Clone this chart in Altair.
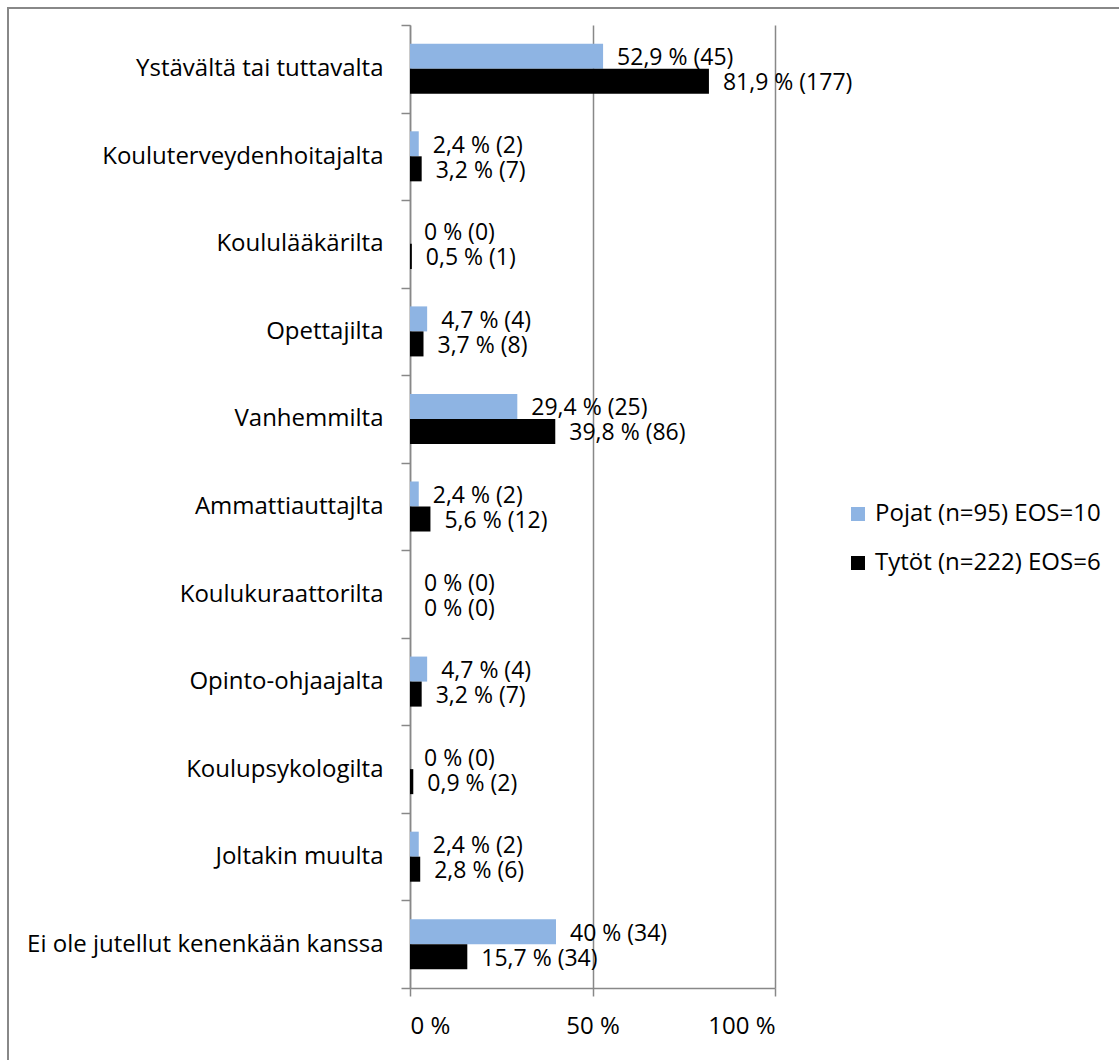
import altair as alt
import pandas as pd

categories = [
    "Ystävältä tai tuttavalta",
    "Kouluterveydenhoitajalta",
    "Koululääkärilta",
    "Opettajilta",
    "Vanhemmilta",
    "Ammattiauttajlta",
    "Koulukuraattorilta",
    "Opinto-ohjaajalta",
    "Koulupsykologilta",
    "Joltakin muulta",
    "Ei ole jutellut kenenkään kanssa",
]
series = ["Pojat (n=95) EOS=10", "Tytöt (n=222) EOS=6"]
colors = ["#8EB4E3", "#000000"]

pojat_pct = [52.9, 2.4, 0, 4.7, 29.4, 2.4, 0, 4.7, 0, 2.4, 40]
pojat_n = [45, 2, 0, 4, 25, 2, 0, 4, 0, 2, 34]
tytot_pct = [81.9, 3.2, 0.5, 3.7, 39.8, 5.6, 0, 3.2, 0.9, 2.8, 15.7]
tytot_n = [177, 7, 1, 8, 86, 12, 0, 7, 2, 6, 34]


def fmt(p, n):
    return f"{p:g}".replace(".", ",") + f" % ({n})"


rows = []
for s, pcts, ns in [(series[0], pojat_pct, pojat_n), (series[1], tytot_pct, tytot_n)]:
    for c, p, n in zip(categories, pcts, ns):
        rows.append({"kategoria": c, "sarja": s, "pct": p, "label": fmt(p, n)})
df = pd.DataFrame(rows)

FONT = "Open Sans"
SIZE = 24
VALUE_SIZE = 23
GRAY = "#888888"

base = alt.Chart(df).encode(
    y=alt.Y(
        "kategoria:N",
        sort=categories,
        scale=alt.Scale(paddingInner=0, paddingOuter=0),
        axis=alt.Axis(
            title=None,
            tickBand="extent",
            tickSize=9,
            tickColor=GRAY,
            tickWidth=1.5,
            domainColor=GRAY,
            domainWidth=1.5,
            labelPadding=18,
            labelFont=FONT,
            labelFontSize=SIZE,
            labelColor="black",
            labelLimit=500,
            grid=False,
        ),
    ),
    yOffset=alt.YOffset(
        "sarja:N", sort=series, scale=alt.Scale(paddingOuter=0.75, paddingInner=0)
    ),
)

bars = base.mark_bar().encode(
    x=alt.X(
        "pct:Q",
        scale=alt.Scale(domain=[0, 100]),
        axis=alt.Axis(
            title=None,
            values=[0, 50, 100],
            labelExpr="datum.value + ' %'",
            grid=True,
            gridColor=GRAY,
            gridWidth=1.5,
            domainColor=GRAY,
            domainWidth=1.5,
            tickColor=GRAY,
            tickWidth=1.5,
            tickSize=8,
            labelPadding=18,
            labelFont=FONT,
            labelFontSize=SIZE,
            labelColor="black",
        ),
    ),
    color=alt.Color(
        "sarja:N",
        sort=series,
        scale=alt.Scale(domain=series, range=colors),
        legend=alt.Legend(
            title=None,
            orient="none",
            legendX=436,
            legendY=477,
            symbolType="square",
            symbolSize=196,
            symbolStrokeWidth=0,
            labelFont=FONT,
            labelFontSize=SIZE,
            labelColor="black",
            labelOffset=5,
            rowPadding=25,
            labelLimit=400,
        ),
    ),
)

labels = base.mark_text(
    align="left",
    baseline="middle",
    dx=14,
    dy=2,
    font=FONT,
    fontSize=VALUE_SIZE,
    color="black",
).encode(
    x="pct:Q",
    text="label:N",
)

frame = (
    alt.Chart(alt.Data(values=[{}]))
    .mark_rect(fillOpacity=0, stroke=GRAY, strokeWidth=2)
    .encode(
        x=alt.value(-402),
        x2=alt.value(1500),
        y=alt.value(-17),
        y2=alt.value(1500),
    )
)

chart = (
    alt.layer(frame, bars, labels)
    .properties(
        width=365,
        height=963,
        autosize="none",
        padding={"left": 410, "top": 25, "right": 344, "bottom": 72},
        background="white",
    )
    .configure_view(strokeWidth=0)
)

chart.save("out.html", embed_options={"renderer": "svg", "actions": False})
